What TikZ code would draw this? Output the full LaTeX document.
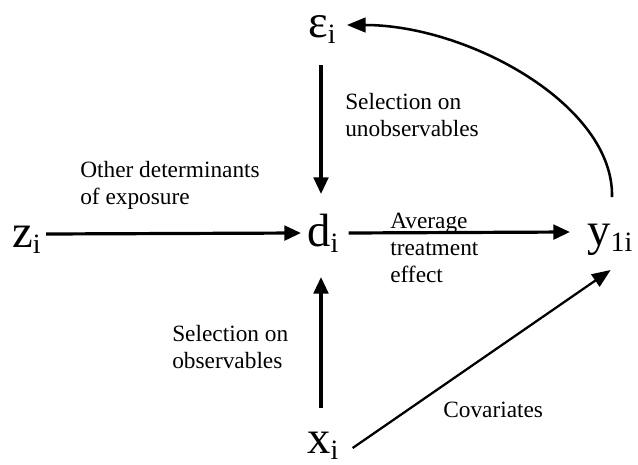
\documentclass[tikz,border=0pt]{standalone}
\usepackage{fontspec}
\setmainfont{Liberation Serif}
\usetikzlibrary{arrows.meta,calc}
\newcommand{\lsub}[1]{\raisebox{-5pt}{\fontsize{21}{21}\selectfont #1}}
\tikzset{
  var/.style={anchor=base west,inner sep=0pt,font=\rmfamily\fontsize{35}{35}\selectfont},
  lab/.style={anchor=base west,inner sep=0pt,align=left,font=\rmfamily\fontsize{17.5}{20}\selectfont},
  thick arrow/.style={line width=2.4pt,-{Triangle[length=12.5pt,width=11pt]}},
  thin arrow/.style={line width=1.7pt,-{Triangle[length=14pt,width=11pt]}},
  curve arrow/.style={line width=1.9pt,-{Triangle[length=14pt,width=11pt]}}
}
\begin{document}
\begin{tikzpicture}[x=0.75pt,y=-0.75pt]
\useasboundingbox[fill=white] (0,0) rectangle (638,464);
% variables
\node[var] (z) at (12,247) {z\lsub{i}};
\node[var] (d) at (307,246) {d\lsub{i}};
\node[var] (y) at (587,245) {y\lsub{1i}};
\node[var] (eps) at (308,37) {ε\lsub{i}};
\node[var] (x) at (307,453) {x\lsub{i}};
% labels (base anchor = baseline of last line)
\node[lab] (l1) at (80,204) {Other determinants\\of exposure};
\node[lab] (l2) at (345,136) {Selection on\\unobservables};
\node[lab] (l3) at (390,282) {Average\\treatment\\effect};
\node[lab] (l4) at (172,368) {Selection on\\observables};
\node[lab] (l5) at (443,417) {Covariates};
% connectors
\draw[thick arrow] ($(z.base east)+(5,-13)$) -- ($(d.base west)+(-6,-13)$);
\draw[thick arrow] ($(d.base east)+(10,-13)$) -- ($(y.base west)+(-17,-13)$);
\draw[thick arrow] ($(eps.base west)+(13,28)$) -- ($(d.base west)+(14,-52)$);
\draw[thick arrow] ($(x.base west)+(14,-45)$) -- ($(d.base west)+(14,31)$);
\draw[thin arrow] ($(x.base east)+(14,-5)$) -- ($(y.base east)+(-22,25)$);
\draw[curve arrow] ($(y.base west)+(25,-48)$) .. controls ($(y.base west)+(27,-140)$) and ($(eps.base east)+(132,-12)$) .. ($(eps.base east)+(11,-12)$);
\end{tikzpicture}
\end{document}
